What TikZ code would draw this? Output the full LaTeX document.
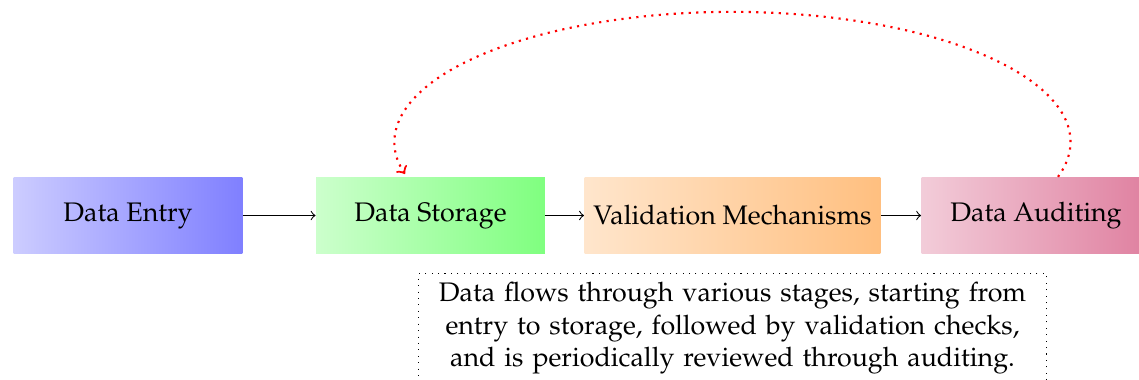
\documentclass[tikz,border=0pt]{standalone}
\usepackage[T1]{fontenc}
\usepackage{mathpazo}
\usetikzlibrary{calc}
\begin{document}
\begin{tikzpicture}[x=0.373pt,y=0.373pt,
  stage/.style={minimum width=3cm,minimum height=1cm,draw=none,font=\normalsize},
  flow/.style={->},
  feedback/.style={->,red,thick,dotted},
  notebox/.style={draw,dotted,text width=8cm,align=center,anchor=north}]
\useasboundingbox (0,0) rectangle (1139,-380);
\node[stage,left color=blue!20,right color=blue!50] (entry) at (128,-215.5) {Data Entry};
\node[stage,left color=green!20,right color=green!50] (storage) at (430.5,-215.5) {Data Storage};
\node[stage,left color=orange!20,right color=orange!50] (valid) at (732.5,-215.5) {Validation Mechanisms};
\node[stage,left color=purple!20,right color=purple!50] (audit) at (1036,-215.5) {Data Auditing};
\node[notebox] (note) at (732.5,-273) {Data flows through various stages, starting from entry to storage, followed by validation checks, and is periodically reviewed through auditing.};
\draw[flow] (entry) -- (storage);
\draw[flow] (storage) -- (valid);
\draw[flow] (valid) -- (audit);
\coordinate (fbs) at ($(audit.north)+(22,0)$);
\draw[feedback] (fbs) arc[start angle=-15.6,end angle=194.3,x radius=338,y radius=130];
\end{tikzpicture}
\end{document}
